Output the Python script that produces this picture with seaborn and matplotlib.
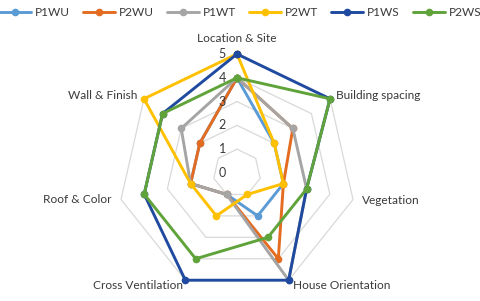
import numpy as np
import pandas as pd
import matplotlib
matplotlib.use("Agg")
import matplotlib.pyplot as plt
import seaborn as sns

categories = ["Location & Site", "Building spacing", "Vegetation", "House Orientation",
              "Cross Ventilation", "Roof & Color", "Wall & Finish"]
series_names = ["P1WU", "P2WU", "P1WT", "P2WT", "P1WS", "P2WS"]
P1WU = [4, 2, 2, 2, 1, 2, 2]
P2WU = [4, 3, 2, 4, 1, 2, 2]
P1WT = [4, 3, 3, 5, 1, 2, 3]
P2WT = [5, 2, 2, 1, 2, 2, 5]
P1WS = [5, 5, 3, 5, 5, 4, 4]
P2WS = [4, 5, 3, 3, 4, 4, 4]
radial_ticks = [0, 1, 2, 3, 4, 5]
colors = ["#5B9BD5", "#E46C20", "#A5A5A5", "#FFC000", "#1F4AA0", "#5FA33A"]

sns.set_theme(style="white")
plt.rcParams["font.family"] = ["Lato", "DejaVu Sans"]
text_color = "#3A3A3A"
fs = 8.6

values = dict(zip(series_names, [P1WU, P2WU, P1WT, P2WT, P1WS, P2WS]))
n = len(categories)
theta = np.linspace(0, 2 * np.pi, n, endpoint=False)

rows = []
for name in series_names:
    vals = values[name]
    for i in range(n + 1):
        rows.append({"series": name, "theta": theta[i % n] + (2 * np.pi if i == n else 0),
                     "value": vals[i % n], "order": i})
df = pd.DataFrame(rows)

W, H = 480, 301
fig = plt.figure(figsize=(W / 100, H / 100), dpi=100)
cx, cy, R = 237, 173, 119
ax = fig.add_axes([(cx - R) / W, (H - cy - R) / H, 2 * R / W, 2 * R / H], projection="polar")
ax.set_theta_zero_location("N")
ax.set_theta_direction(-1)
ax.set_ylim(0, 5)
ax.grid(False)
ax.spines["polar"].set_visible(False)
ax.set_xticks([])
ax.set_yticks([])
ax.patch.set_alpha(0)

# heptagon grid rings
ring_theta = np.append(theta, theta[0] + 2 * np.pi)
for r in radial_ticks[1:]:
    ax.plot(ring_theta, [r] * (n + 1), color="#D9D9D9", lw=0.9, zorder=0, clip_on=False)

sns.lineplot(data=df, x="theta", y="value", hue="series", hue_order=series_names,
             palette=colors, sort=False, estimator=None, units="series",
             marker="o", markersize=5.5, markeredgewidth=0, linewidth=2.1,
             ax=ax, legend=False)
for ln in ax.lines:
    ln.set_clip_on(False)
ax.set_xlabel("")
ax.set_ylabel("")
ax.set_ylim(0, 5)

# radial labels
for v in radial_ticks:
    ax.annotate(str(v), xy=(0, v), xytext=(-8, 0), textcoords="offset points",
                ha="right", va="center", fontsize=fs + 0.4, color=text_color,
                annotation_clip=False)

# category labels
offsets = [((0, 11.5), "center"), ((4, 2.5), "left"), ((6.5, -0.5), "left"),
           ((3, -3.5), "left"), ((-2, -4), "right"), ((-6.5, 0), "right"),
           ((-5, 2.5), "right")]
for cat, th, (off, ha) in zip(categories, theta, offsets):
    ax.annotate(cat, xy=(th, 5), xytext=off, textcoords="offset points",
                ha=ha, va="center", fontsize=fs, color=text_color, annotation_clip=False)

# legend
from matplotlib.lines import Line2D
handles = [Line2D([0], [0], color=c, lw=2.1, marker="o", markersize=5.5, markeredgewidth=0)
           for c in colors]
fig.legend(handles, series_names, loc="center", bbox_to_anchor=(0.5, 1 - 13 / H),
           ncol=6, frameon=False, fontsize=fs, handlelength=2.7, handletextpad=0.3,
           columnspacing=1.1, labelcolor=text_color)

fig.savefig("out.png", dpi=100)
